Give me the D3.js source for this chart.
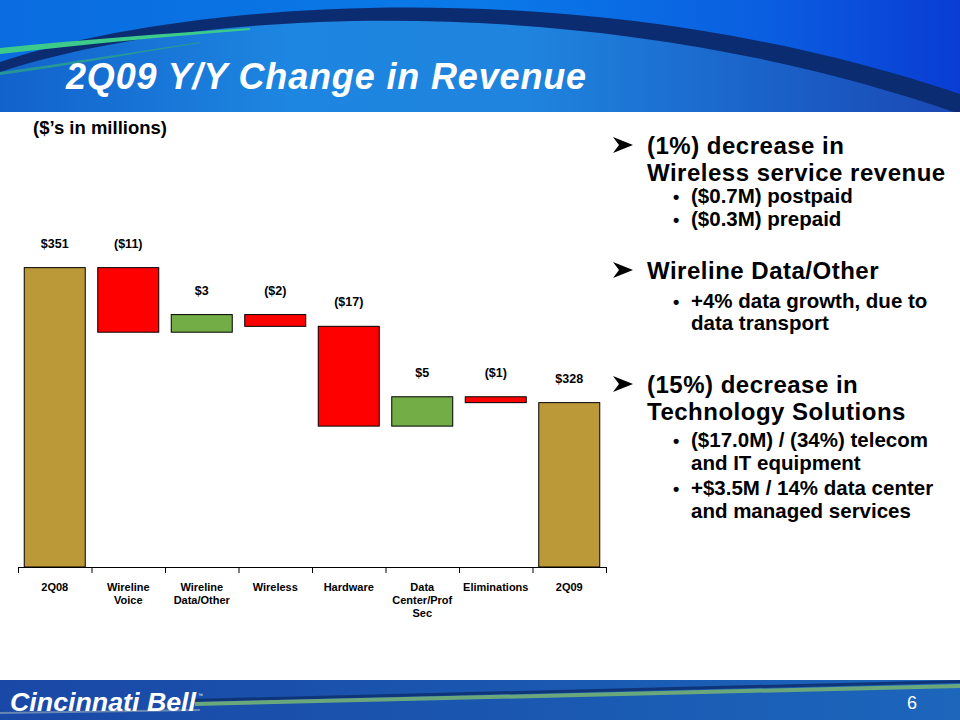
<!DOCTYPE html>
<html><head><meta charset="utf-8">
<script src="https://cdn.jsdelivr.net/npm/d3@7"></script>
<style>body{margin:0;background:#fff}svg{display:block}</style>
</head><body>
<svg id="c" width="960" height="720"></svg>
<script>
// ---- data ----
const categories = ["2Q08","Wireline Voice","Wireline Data/Other","Wireless","Hardware","Data Center/Prof Sec","Eliminations","2Q09"];
const categoryLines = [["2Q08"],["Wireline","Voice"],["Wireline","Data/Other"],["Wireless"],["Hardware"],["Data","Center/Prof","Sec"],["Eliminations"],["2Q09"]];
const startValue = 351;
const changes = [-11, 3, -2, -17, 5, -1];
const endValue = 328;
const valueLabels = ["$351","($11)","$3","($2)","($17)","$5","($1)","$328"];
const title = "2Q09 Y/Y Change in Revenue";
const unitNote = "($\u2019s in millions)";
const bulletBlocks = [
  {head:["(1%) decrease in","Wireless service revenue"], subs:[["($0.7M) postpaid"],["($0.3M) prepaid"]]},
  {head:["Wireline Data/Other"], subs:[["+4% data growth, due to","data transport"]]},
  {head:["(15%) decrease in","Technology Solutions"], subs:[["($17.0M) / (34%) telecom","and IT equipment"],["+$3.5M / 14% data center","and managed services"]]}
];

const svg = d3.select("#c");
const defs = svg.append("defs");
const FONT = "'Liberation Sans', Arial, Helvetica, sans-serif";

// ---- header background ----
const g1 = defs.append("linearGradient").attr("id","hdrLow").attr("x1",0).attr("x2",1).attr("y1",0).attr("y2",0);
[[0,"#1262cc"],[0.3,"#1d86e0"],[0.55,"#1f84de"],[0.8,"#1a62c8"],[1,"#1b47b4"]].forEach(s=>g1.append("stop").attr("offset",s[0]).attr("stop-color",s[1]));
const g2 = defs.append("linearGradient").attr("id","hdrTop").attr("x1",0).attr("x2",1).attr("y1",0).attr("y2",0);
[[0,"#0a6ce0"],[0.5,"#0a7ae8"],[0.8,"#0a5ee0"],[1,"#0a3cd4"]].forEach(s=>g2.append("stop").attr("offset",s[0]).attr("stop-color",s[1]));
const g3 = defs.append("linearGradient").attr("id","ftr").attr("x1",0).attr("x2",1).attr("y1",0).attr("y2",0);
[[0,"#1a48a6"],[0.5,"#1a56b0"],[1,"#1c66bc"]].forEach(s=>g3.append("stop").attr("offset",s[0]).attr("stop-color",s[1]));

svg.append("rect").attr("x",0).attr("y",0).attr("width",960).attr("height",112).attr("fill","url(#hdrLow)");
svg.append("path").attr("d","M0,0H960V96C600,-26 200,-2 0,64Z").attr("fill","url(#hdrTop)");
// navy swoosh
svg.append("path").attr("d","M0,62C200,-4 600,-28 960,94V114C600,-12 200,6 0,72Z").attr("fill","#0b2c70");
// green swoosh
svg.append("path").attr("d","M0,48C80,40 160,34 250,28L250,30C160,37 80,45 0,54Z").attr("fill","#3dcb8c");
svg.append("path").attr("d","M0,72C60,64 120,54 200,42L200,43C120,56 60,67 0,75Z").attr("fill","#2aa38a").attr("opacity",0.8);
svg.append("rect").attr("x",0).attr("y",112).attr("width",960).attr("height",568).attr("fill","#fff");

svg.append("text").attr("x",66).attr("y",89).attr("fill","#fff")
  .attr("font-family",FONT).attr("font-weight","bold").attr("font-style","italic")
  .attr("font-size",36).attr("letter-spacing",0.85).text(title);

// ---- footer ----
svg.append("rect").attr("x",0).attr("y",680).attr("width",960).attr("height",40).attr("fill","url(#ftr)");
svg.append("path").attr("d","M190,699L960,680V683L190,702Z").attr("fill","#0f3578");
svg.append("path").attr("d","M195,702L960,684V688L195,706Z").attr("fill","#6aa87c");
svg.append("path").attr("d","M0,712L200,709V711L0,714Z").attr("fill","#8aa2b8").attr("opacity",0.7);
svg.append("text").attr("x",10).attr("y",711).attr("fill","#fff").attr("font-family",FONT)
  .attr("font-weight","bold").attr("font-style","italic").attr("font-size",25)
  .attr("textLength",186).attr("lengthAdjust","spacingAndGlyphs").text("Cincinnati Bell");
svg.append("text").attr("x",198).attr("y",697).attr("fill","#fff").attr("font-family",FONT).attr("font-size",5).text("\u2122");
svg.append("text").attr("x",912).attr("y",709).attr("fill","#fff").attr("font-family",FONT)
  .attr("font-size",18).attr("text-anchor","middle").text("6");

// ---- units note ----
svg.append("text").attr("x",33).attr("y",134).attr("font-family",FONT).attr("font-weight","bold")
  .attr("font-size",18.5).attr("fill","#000").text(unitNote);

// ---- waterfall ----
const x = d3.scaleBand().domain(categories).range([18,606]).paddingInner(0.17).paddingOuter(0.085);
const y = d3.scaleLinear().domain([300,360]).range([567, 567 - 60*5.87]);

const bars = [];
let run = startValue;
bars.push({cat:categories[0], lo:y.domain()[0], hi:startValue, type:"total"});
changes.forEach((c,i)=>{
  const next = run + c;
  bars.push({cat:categories[i+1], lo:Math.min(run,next), hi:Math.max(run,next), type:c<0?"down":"up"});
  run = next;
});
bars.push({cat:categories[7], lo:y.domain()[0], hi:endValue, type:"total"});
const color = {total:"#bb9838", down:"#ff0000", up:"#72ad45"};

const chart = svg.append("g");
chart.selectAll("rect.bar").data(bars).join("rect").attr("class","bar")
  .attr("x",d=>x(d.cat)).attr("width",x.bandwidth())
  .attr("y",d=>y(d.hi)).attr("height",d=>y(d.lo)-y(d.hi))
  .attr("fill",d=>color[d.type]).attr("stroke","#000").attr("stroke-width",1);

chart.selectAll("text.val").data(bars).join("text").attr("class","val")
  .attr("x",d=>x(d.cat)+x.bandwidth()/2).attr("y",d=>y(d.hi)-20)
  .attr("text-anchor","middle").attr("font-family",FONT).attr("font-weight","bold")
  .attr("font-size",12.5).attr("fill","#000").text((d,i)=>valueLabels[i]);

// axis with ticks at band boundaries
const xb = d3.scaleLinear().domain([0,categories.length]).range(x.range());
const ax = svg.append("g").attr("transform","translate(0,567)")
  .call(d3.axisBottom(xb).tickValues(d3.range(categories.length+1)).tickFormat("").tickSize(6).tickSizeOuter(0));
ax.selectAll("path,line").attr("stroke","#000");

const lab = svg.append("g");
categories.forEach((c,i)=>{
  const t = lab.append("text").attr("text-anchor","middle").attr("font-family",FONT)
    .attr("font-weight","bold").attr("font-size",11).attr("fill","#000");
  categoryLines[i].forEach((ln,j)=>{
    t.append("tspan").attr("x",x(c)+x.bandwidth()/2).attr("y",591+j*13).text(ln);
  });
});

// ---- bullet text ----
const bt = svg.append("g").attr("font-family",FONT).attr("fill","#000");
const headBase = [[154,181],[279],[393,420]];
const subBase = [[[203],[226]],[[308,330]],[[447,470],[495,518]]];
bulletBlocks.forEach((b,bi)=>{
  const cy = headBase[bi][0] - 9;
  bt.append("path")
    .attr("d",`M613,${cy-8}L633,${cy}L613,${cy+8}L619,${cy}Z`)
    .attr("fill","#000");
  const ht = bt.append("text").attr("font-weight","bold").attr("font-size",24).attr("letter-spacing",0.5);
  b.head.forEach((h,hi)=>{
    ht.append("tspan").attr("x",647).attr("y",headBase[bi][hi]).text(h);
  });
  b.subs.forEach((s,si)=>{
    bt.append("text").attr("x",673).attr("y",subBase[bi][si][0]).attr("font-weight","bold").attr("font-size",18).text("\u2022");
    const st = bt.append("text").attr("font-weight","bold").attr("font-size",20.5);
    s.forEach((ln,li)=>{
      st.append("tspan").attr("x",691).attr("y",subBase[bi][si][li]).text(ln);
    });
  });
});
</script>
</body></html>
